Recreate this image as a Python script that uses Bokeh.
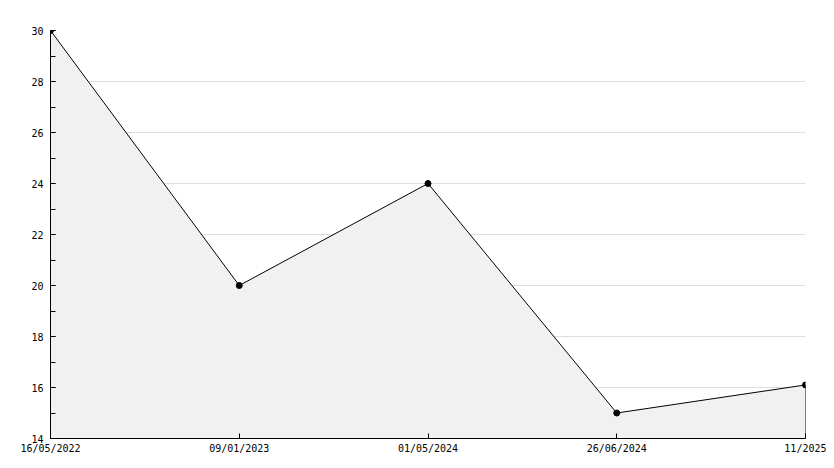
from bokeh.plotting import figure
from bokeh.models import FixedTicker, Range1d
from bokeh.embed import file_html
from bokeh.resources import INLINE

dates = ["16/05/2022", "09/01/2023", "01/05/2024", "26/06/2024", "11/2025"]
values = [30, 20, 24, 15, 16.1]
y_min, y_max = 14, 30

xs = list(range(len(dates)))

p = figure(width=826, height=460, output_backend="svg", toolbar_location=None,
           x_range=Range1d(0, len(dates) - 1), y_range=Range1d(y_min, y_max),
           min_border_left=50, min_border_right=21, min_border_top=30, min_border_bottom=22)
p.outline_line_color = None
p.background_fill_color = "white"
p.border_fill_color = "white"

# filled area
p.varea(x=xs, y1=[y_min] * len(xs), y2=values, fill_color="#f1f1f1")
p.line(x=xs, y=values, line_color="black", line_width=1)
p.segment(x0=[xs[-1]], y0=[y_min], x1=[xs[-1]], y1=[values[-1]], line_color="black", line_width=1)
p.scatter(x=xs, y=values, size=6, marker="circle", fill_color="black", line_color="black")

font = "DejaVu Sans Mono"

# x axis
p.xaxis.ticker = FixedTicker(ticks=xs)
p.xaxis.major_label_overrides = {i: d for i, d in enumerate(dates)}
p.xaxis.major_tick_in = 5
p.xaxis.major_tick_out = 0
p.xaxis.minor_tick_line_color = None
p.xaxis.axis_line_color = "black"
p.xaxis.major_label_text_font = font
p.xaxis.major_label_text_font_size = "10px"
p.xaxis.major_label_text_color = "black"
p.xaxis.major_label_standoff = 4

# y axis
p.yaxis.ticker = FixedTicker(ticks=list(range(y_min, y_max + 1, 2)),
                             minor_ticks=list(range(y_min, y_max + 1)))
p.yaxis.major_tick_in = 5
p.yaxis.major_tick_out = 0
p.yaxis.minor_tick_in = 5
p.yaxis.minor_tick_out = 0
p.yaxis.minor_tick_line_color = "black"
p.yaxis.axis_line_color = "black"
p.yaxis.major_label_text_font = font
p.yaxis.major_label_text_font_size = "10px"
p.yaxis.major_label_text_color = "black"
p.yaxis.major_label_standoff = 7

p.xgrid.grid_line_color = None
p.ygrid.grid_line_color = "#dddddd"
p.ygrid.ticker = FixedTicker(ticks=list(range(y_min, y_max + 1, 2)))

open("out.html", "w").write(file_html(p, INLINE))
